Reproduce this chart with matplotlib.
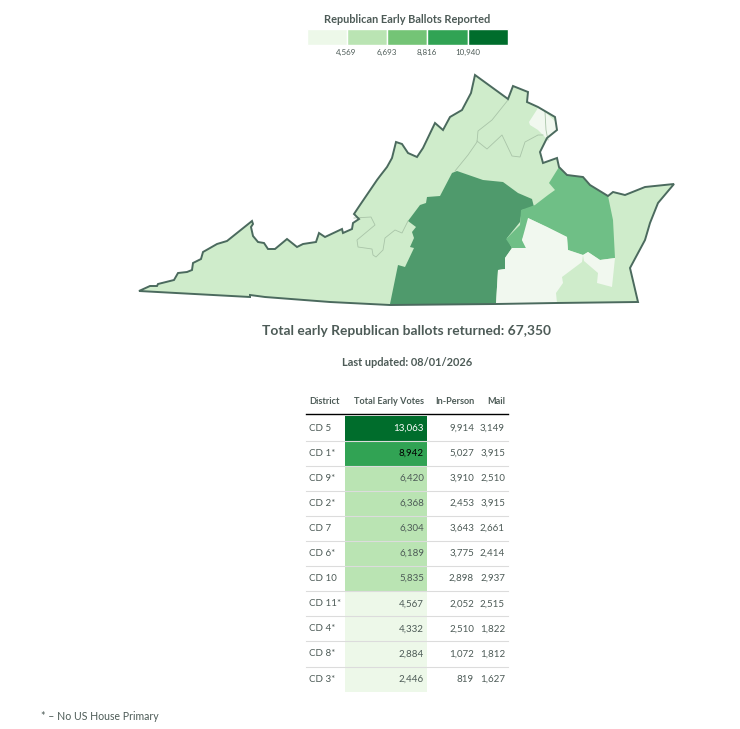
"""
Virginia early Republican ballots: map, legend and table
"""
import matplotlib
matplotlib.use('Agg')
import matplotlib.pyplot as plt
from matplotlib.patches import Polygon, Rectangle

plt.rcParams['font.family'] = ['Lato', 'DejaVu Sans']

# Legend
legend_breaks = [4569, 6693, 8816, 10940]
legend_labels = ['4,569', '6,693', '8,816', '10,940']
legend_colors = ['#edf8e9', '#bae4b3', '#74c476', '#31a354', '#006d2c']

# Table
districts = ['CD 5', 'CD 1*', 'CD 9*', 'CD 2*', 'CD 7', 'CD 6*', 'CD 10',
             'CD 11*', 'CD 4*', 'CD 8*', 'CD 3*']
total_votes = [13063, 8942, 6420, 6368, 6304, 6189, 5835, 4567, 4332, 2884, 2446]
in_person = [9914, 5027, 3910, 2453, 3643, 3775, 2898, 2052, 2510, 1072, 819]
mail = [3149, 3915, 2510, 3915, 2661, 2414, 2937, 2515, 1822, 1812, 1627]

# Map outlines, in picture pixels
state_outline = [
    (139, 291), (150, 286), (157, 286), (158, 284), (174, 280), (178, 273), (187, 272),
    (192, 270), (193, 263), (201, 259), (203, 252), (217, 244), (227, 241), (252, 221),
    (253, 224), (251, 227), (253, 236), (258, 242), (264, 243), (268, 249), (275, 249),
    (287, 239), (297, 247), (303, 244), (316, 242), (319, 233), (325, 237), (342, 229),
    (343, 233), (352, 229), (353, 223), (359, 219), (354, 214), (360, 205), (377, 180),
    (380, 176), (387, 167), (392, 158), (396, 142), (402, 144), (408, 153), (417, 157),
    (423, 148), (435, 123), (443, 130), (450, 117), (462, 110), (471, 93), (475, 75),
    (508, 99), (513, 86), (528, 92), (527, 102), (538, 107), (555, 117), (557, 130),
    (547, 138), (540, 152), (543, 163), (557, 158), (559, 167), (567, 175), (583, 177),
    (590, 185), (608, 196), (613, 192), (625, 195), (645, 187), (674, 184), (658, 203),
    (650, 223), (645, 240), (630, 268), (638, 302), (556, 303), (496, 304), (390, 305),
    (330, 302), (265, 297), (250, 295), (250, 297), (139, 291),
]
cd5_outline = [
    (390, 304), (398, 265), (405, 267), (414, 248), (410, 247), (414, 238), (412, 232),
    (416, 227), (408, 221), (420, 205), (426, 203), (427, 197), (440, 196), (452, 173),
    (457, 171), (483, 180), (503, 182), (518, 193), (532, 199), (534, 207), (522, 210),
    (520, 222), (507, 238), (512, 248), (505, 258), (505, 269), (498, 270), (496, 304),
]
cd1_outline = [
    (559, 167), (567, 175), (583, 177), (590, 185), (608, 196), (613, 220), (615, 258),
    (600, 260), (588, 252), (583, 255), (568, 250), (567, 237), (547, 227), (528, 218),
    (528, 225), (522, 240), (526, 248), (512, 248), (506, 239), (520, 225), (521, 210),
    (535, 205), (548, 195), (555, 190), (549, 183),
]
cd3_outline = [
    (496, 304), (498, 270), (505, 269), (505, 258), (512, 248), (526, 248), (522, 240),
    (528, 218), (547, 227), (567, 237), (568, 250), (583, 255), (582, 262), (562, 277),
    (563, 283), (556, 293), (557, 303),
]
norfolk_outline = [
    (583, 255), (588, 252), (600, 260), (615, 258), (612, 287), (597, 283), (598, 273), (584, 261),
]
cd8_outline = [
    (529, 122), (538, 108), (545, 112), (557, 123), (557, 130), (548, 140), (543, 135),
    (538, 130), (530, 125),
]
inner_lines = [
    [(508, 100), (492, 120), (478, 131), (477, 142), (468, 155), (455, 171)],
    [(477, 141), (487, 149), (502, 135), (512, 156), (520, 157), (525, 142), (538, 135), (543, 135)],
    [(354, 218), (371, 217), (375, 225), (357, 240), (358, 247), (372, 249), (373, 255),
     (376, 257), (383, 250), (385, 238), (395, 230), (402, 233), (408, 221)],
    [(545, 112), (546, 130), (548, 140)],
]

FILL_MAP = {'light': '#cfeccb', 'cd5': '#4f9a6c', 'cd1': '#6fbf86', 'pale': '#f1f8ef'}
TEXT_COLOR = '#4d5b57'


def bin_color(value):
    """Cor da legenda para um valor"""
    for limit, color in zip(legend_breaks, legend_colors):
        if value < limit:
            return color
    return legend_colors[-1]


fig = plt.figure(figsize=(7.4, 7.29), dpi=100)
ax = fig.add_axes([0, 0, 1, 1])
ax.set_xlim(0, 740)
ax.set_ylim(729, 0)
ax.axis('off')

# Legenda
ax.text(407, 19, 'Republican Early Ballots Reported', ha='center', va='center',
        fontsize=7.9, fontweight='bold', color=TEXT_COLOR)
for i, color in enumerate(legend_colors):
    ax.add_patch(Rectangle((306.5 + i * 40.3, 29), 40.3, 16, facecolor=color,
                           edgecolor='white', linewidth=1))
for i, label in enumerate(legend_labels):
    ax.text(346.5 + i * 40.3, 52, label, ha='center', va='center', fontsize=5.8, color=TEXT_COLOR)

# Mapa
ax.add_patch(Polygon(state_outline, closed=True, facecolor=FILL_MAP['light'], edgecolor='none'))
for outline, key in [(cd5_outline, 'cd5'), (cd1_outline, 'cd1'), (cd3_outline, 'pale'),
                     (norfolk_outline, 'pale'), (cd8_outline, 'pale')]:
    ax.add_patch(Polygon(outline, closed=True, facecolor=FILL_MAP[key], edgecolor='none', zorder=2))
for line in inner_lines:
    ax.plot([p[0] for p in line], [p[1] for p in line], color='#a9c4a8', linewidth=0.6, zorder=3)
ax.add_patch(Polygon(state_outline, closed=True, facecolor='none', edgecolor='#4b6a5e',
                     linewidth=1.4, zorder=4))

ax.text(407, 331, 'Total early Republican ballots returned: 67,350', ha='center', va='center',
        fontsize=9.9, fontweight='bold', color=TEXT_COLOR)
ax.text(407, 362, 'Last updated: 08/01/2026', ha='center', va='center',
        fontsize=7.9, fontweight='bold', color=TEXT_COLOR)

# Tabela
ax.text(309, 401, 'District', va='center', fontsize=6.6, fontweight='bold', color=TEXT_COLOR)
ax.text(424, 401, 'Total Early Votes', ha='right', va='center', fontsize=6.6, fontweight='bold', color=TEXT_COLOR)
ax.text(474, 401, 'In-Person', ha='right', va='center', fontsize=6.6, fontweight='bold', color=TEXT_COLOR)
ax.text(505, 401, 'Mail', ha='right', va='center', fontsize=6.6, fontweight='bold', color=TEXT_COLOR)
ax.plot([306, 508], [414.3, 414.3], color='black', linewidth=1)

ROW_TOP = 415.5
ROW_H = 25.1
for i, district in enumerate(districts):
    top = ROW_TOP + i * ROW_H
    mid = top + ROW_H / 2
    ax.add_patch(Rectangle((345, top), 82, ROW_H, facecolor=bin_color(total_votes[i]), edgecolor='none'))
    if i < len(districts) - 1:
        ax.plot([306, 508], [top + ROW_H, top + ROW_H], color='#dcdcdc', linewidth=0.8, zorder=3)
    if total_votes[i] > legend_breaks[3]:
        vote_color = 'white'
    elif total_votes[i] > legend_breaks[2]:
        vote_color = 'black'
    else:
        vote_color = TEXT_COLOR
    ax.text(309, mid, district, va='center', fontsize=7, color=TEXT_COLOR, zorder=5)
    ax.text(424, mid, f'{total_votes[i]:,}', ha='right', va='center', fontsize=7, color=vote_color, zorder=5)
    ax.text(474, mid, f'{in_person[i]:,}', ha='right', va='center', fontsize=7, color=TEXT_COLOR, zorder=5)
    ax.text(505, mid, f'{mail[i]:,}', ha='right', va='center', fontsize=7, color=TEXT_COLOR, zorder=5)

ax.text(41, 716, '* – No US House Primary', va='center', fontsize=7.6, color=TEXT_COLOR)

plt.savefig('out.png', dpi=100)
